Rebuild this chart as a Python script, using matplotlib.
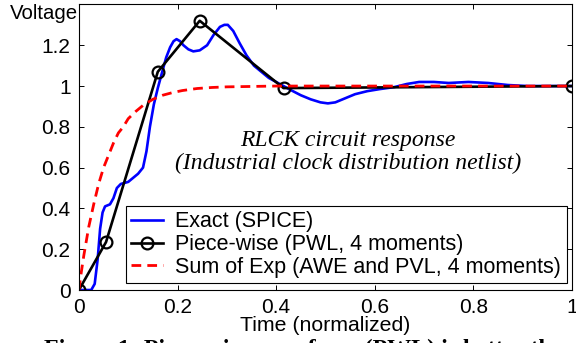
"""Step response of an RLCK clock net: SPICE vs PWL vs sum-of-exponentials."""
import matplotlib
matplotlib.use("Agg")
import matplotlib.pyplot as plt

# exact SPICE waveform
t_exact = [0.0, 0.025, 0.032, 0.038, 0.043, 0.048, 0.053, 0.063, 0.070, 0.077,
           0.085, 0.100, 0.110, 0.120, 0.130, 0.137, 0.144, 0.152, 0.160, 0.169,
           0.177, 0.185, 0.192, 0.198, 0.205, 0.212, 0.222, 0.232, 0.245, 0.260,
           0.273, 0.286, 0.295, 0.302, 0.313, 0.326, 0.340, 0.355, 0.370, 0.385,
           0.400, 0.415, 0.430, 0.450, 0.470, 0.490, 0.505, 0.520, 0.540, 0.560,
           0.585, 0.610, 0.640, 0.665, 0.690, 0.720, 0.750, 0.790, 0.830, 0.870,
           0.910, 0.950, 1.0]
v_exact = [0.0, 0.0, 0.03, 0.15, 0.30, 0.38, 0.41, 0.42, 0.45, 0.50,
           0.52, 0.53, 0.55, 0.57, 0.60, 0.68, 0.80, 0.91, 0.99, 1.07,
           1.14, 1.19, 1.22, 1.23, 1.22, 1.20, 1.18, 1.17, 1.175, 1.20,
           1.25, 1.29, 1.30, 1.30, 1.27, 1.21, 1.15, 1.10, 1.07, 1.04,
           1.02, 1.00, 0.98, 0.955, 0.935, 0.92, 0.915, 0.92, 0.94, 0.96,
           0.975, 0.985, 0.995, 1.01, 1.02, 1.02, 1.015, 1.02, 1.015, 1.005,
           1.0, 1.0, 1.0]

# piece-wise linear approximation (4 moments)
t_pwl = [0.0, 0.055, 0.16, 0.245, 0.415, 1.0]
v_pwl = [0.0, 0.235, 1.07, 1.32, 0.99, 1.0]

# sum of exponentials (AWE / PVL)
t_exp = [0.0, 0.005, 0.01, 0.02, 0.03, 0.04, 0.05, 0.06, 0.07, 0.08, 0.09,
         0.10, 0.115, 0.13, 0.15, 0.17, 0.19, 0.21, 0.24, 0.27, 0.30, 0.35,
         0.40, 1.0]
v_exp = [0.0, 0.09, 0.17, 0.31, 0.42, 0.52, 0.60, 0.66, 0.72, 0.77, 0.80,
         0.84, 0.875, 0.905, 0.935, 0.955, 0.968, 0.978, 0.988, 0.993, 0.996,
         0.998, 1.0, 1.0]

labels = ["Exact (SPICE)", "Piece-wise (PWL, 4 moments)",
          "Sum of Exp (AWE and PVL, 4 moments)"]

plt.rcParams["font.family"] = ["Liberation Sans", "DejaVu Sans"]

fig = plt.figure(figsize=(5.76, 3.43), dpi=100)
ax = fig.add_axes([0.137, 0.1545, 0.856, 0.8325])

ax.plot(t_exact, v_exact, color="#0000ff", lw=1.9, label=labels[0])
ax.plot(t_pwl, v_pwl, color="black", lw=1.9, marker="o", ms=8.5,
        mfc="none", mec="black", mew=1.6, label=labels[1])
ax.plot(t_exp, v_exp, color="#ff0000", lw=2.0, ls=(0, (3.5, 2.2)),
        label=labels[2])

ax.set_xlim(0, 1)
ax.set_ylim(0, 1.4)
ax.set_xticks([0, 0.2, 0.4, 0.6, 0.8, 1])
ax.set_xticklabels(["0", "0.2", "0.4", "0.6", "0.8", "1"])
ax.set_yticks([0, 0.2, 0.4, 0.6, 0.8, 1, 1.2])
ax.set_yticklabels(["0", "0.2", "0.4", "0.6", "0.8", "1", "1.2"])
ax.tick_params(direction="in", length=3.5, width=0.7, labelsize=15,
               top=True, right=True, pad=6)
for spine in ax.spines.values():
    spine.set_linewidth(0.8)

ax.set_xlabel("Time (normalized)", fontsize=15.3, labelpad=-1)
fig.text(0.017, 0.945, "Voltage", fontsize=14.7, ha="left", va="baseline")

ax.text(0.546, 0.483, "RLCK circuit response\n(Industrial clock distribution netlist)",
        transform=ax.transAxes, ha="center", va="center", fontsize=17,
        style="italic", family="Liberation Serif", linespacing=1.1)

leg = ax.legend(loc="lower right", bbox_to_anchor=(0.989, 0.024), fontsize=15.5,
                frameon=True, fancybox=False, framealpha=1, edgecolor="black",
                handlelength=1.5, handletextpad=0.55, borderpad=0.25,
                labelspacing=0.08, borderaxespad=0)
leg.get_frame().set_linewidth(0.8)

# caption of the source figure, cropped at the bottom edge as in the original
fig.text(0.076, -0.035, "Figure 1: Piece-wise waveform (PWL) is better th",
         fontsize=17.3, weight="bold", family="Liberation Serif",
         ha="left", va="baseline")

fig.savefig("out.png", dpi=100, facecolor="white")
